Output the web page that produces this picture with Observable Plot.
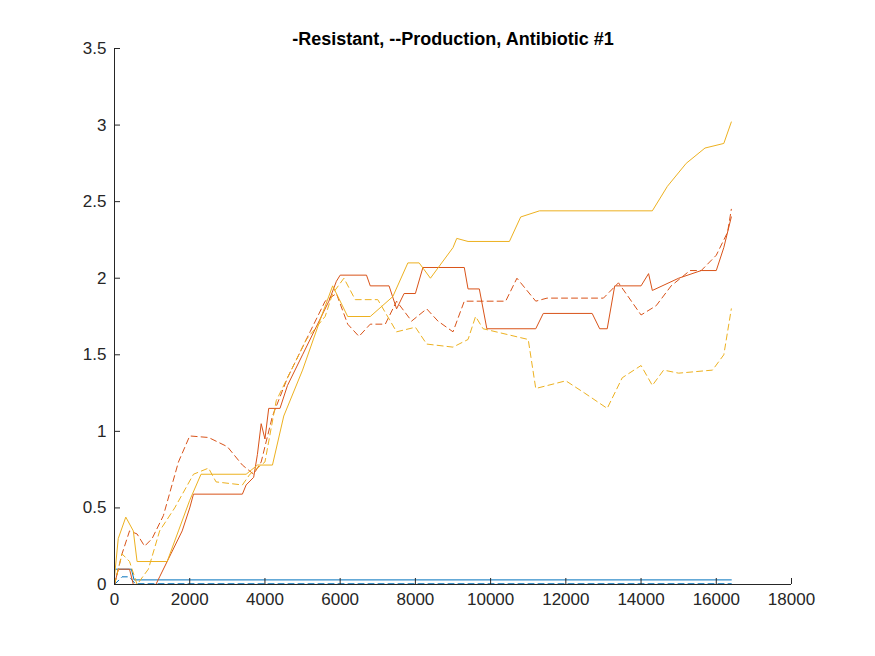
<!DOCTYPE html>
<html><head><meta charset="utf-8">
<script src="https://cdn.jsdelivr.net/npm/d3@7"></script>
<script src="https://cdn.jsdelivr.net/npm/@observablehq/plot@0.6"></script>
<style>body{margin:0;background:#fff}</style>
</head><body><div id="chart"></div>
<script>
const blueSolid = [[0,0.1],[450,0.1],[520,0.03],[16400,0.03]]
const blueDash = [[0,0.0],[200,0.05],[400,0.05],[550,0.005],[16400,0.005]]
const redSolid = [[0,0],[100,0.1],[400,0.1],[500,0],[1100,0],[1200,0.05],[1500,0.2],[1800,0.35],[2000,0.5],[2100,0.59],[3400,0.59],[3500,0.65],[3700,0.7],[3800,0.85],[3900,1.05],[4000,0.95],[4100,1.15],[4400,1.15],[4600,1.3],[5000,1.5],[5400,1.7],[5700,1.85],[5900,1.98],[6000,2.02],[6700,2.02],[6800,1.95],[7300,1.95],[7500,1.8],[7700,1.9],[8000,1.9],[8200,2.07],[9300,2.07],[9400,1.93],[9700,1.93],[9900,1.67],[11200,1.67],[11400,1.77],[12700,1.77],[12900,1.67],[13100,1.67],[13300,1.95],[14000,1.95],[14200,2.03],[14300,1.92],[15000,2.0],[15600,2.05],[16000,2.05],[16200,2.2],[16400,2.4]]
const redDash = [[0,0],[200,0.2],[400,0.35],[600,0.33],[800,0.25],[1000,0.3],[1300,0.45],[1700,0.8],[2000,0.97],[2500,0.96],[3000,0.9],[3400,0.78],[3700,0.72],[3900,0.8],[4200,1.1],[4600,1.35],[5200,1.65],[5600,1.85],[5900,1.9],[6200,1.7],[6500,1.62],[6800,1.7],[7200,1.7],[7500,1.85],[7900,1.72],[8300,1.8],[8600,1.72],[9000,1.65],[9300,1.85],[10400,1.85],[10700,2.0],[11200,1.85],[11500,1.87],[13000,1.87],[13400,1.97],[14000,1.76],[14400,1.82],[14800,1.95],[15300,2.05],[15600,2.05],[16000,2.15],[16300,2.3],[16400,2.45]]
const yelSolid = [[0,0.05],[100,0.3],[300,0.44],[500,0.35],[600,0.15],[1400,0.15],[1700,0.35],[2000,0.55],[2300,0.72],[3500,0.72],[3800,0.78],[4200,0.78],[4500,1.1],[5000,1.4],[5500,1.75],[5800,1.95],[6200,1.75],[6800,1.75],[7400,1.88],[7800,2.1],[8100,2.1],[8400,2.0],[9000,2.2],[9100,2.26],[9400,2.24],[10500,2.24],[10800,2.4],[11300,2.44],[14300,2.44],[14700,2.6],[15200,2.75],[15700,2.85],[16200,2.88],[16400,3.02]]
const yelDash = [[0,0],[200,0.2],[400,0.15],[600,0],[900,0.1],[1200,0.35],[1600,0.5],[2100,0.72],[2500,0.76],[2700,0.67],[3400,0.65],[3600,0.72],[4000,0.8],[4300,1.2],[4700,1.4],[5100,1.6],[5600,1.75],[5800,1.9],[6100,2.0],[6400,1.86],[7000,1.86],[7500,1.65],[8000,1.68],[8300,1.57],[9000,1.55],[9400,1.6],[9600,1.75],[9800,1.67],[11000,1.6],[11200,1.28],[12000,1.33],[12500,1.25],[13100,1.15],[13500,1.35],[14000,1.43],[14300,1.3],[14600,1.4],[15000,1.38],[15900,1.4],[16200,1.5],[16400,1.8]]
const xTicks = d3.range(0, 18001, 2000)
const yTicks = [0, 0.5, 1, 1.5, 2, 2.5, 3, 3.5]

const series = [
  [blueSolid, "#0072BD", null], [blueDash, "#0072BD", "6,4"],
  [redSolid, "#D95319", null], [redDash, "#D95319", "6,4"],
  [yelSolid, "#EDB120", null], [yelDash, "#EDB120", "6,4"]
]
const chart = Plot.plot({
  width: 875, height: 656,
  marginLeft: 114, marginRight: 84, marginTop: 48, marginBottom: 72,
  style: {fontFamily: "Arial, 'Liberation Sans', sans-serif", fontSize: "17px", color: "#262626"},
  x: {domain: [0, 18000]},
  y: {domain: [0, 3.5]},
  marks: [
    ...series.map(([d, c, dash]) => Plot.line(d, {x: d => d[0], y: d => d[1], stroke: c, strokeWidth: 1, strokeDasharray: dash})),
    Plot.axisX({ticks: xTicks, tickSize: -6, tickFormat: d => String(d), label: null, fontSize: 17, tickPadding: 14}),
    Plot.axisY({ticks: yTicks, tickSize: -6, tickFormat: d => String(d), label: null, fontSize: 17, tickPadding: 14}),
    Plot.ruleY([0], {stroke: "#262626"}),
    Plot.ruleX([0], {stroke: "#262626"}),
    Plot.text(["-Resistant, --Production, Antibiotic #1"], {frameAnchor: "top", dy: -16, fontWeight: "bold", fontSize: 18, fill: "#000"})
  ]
})
document.getElementById("chart").append(chart)
</script></body></html>
